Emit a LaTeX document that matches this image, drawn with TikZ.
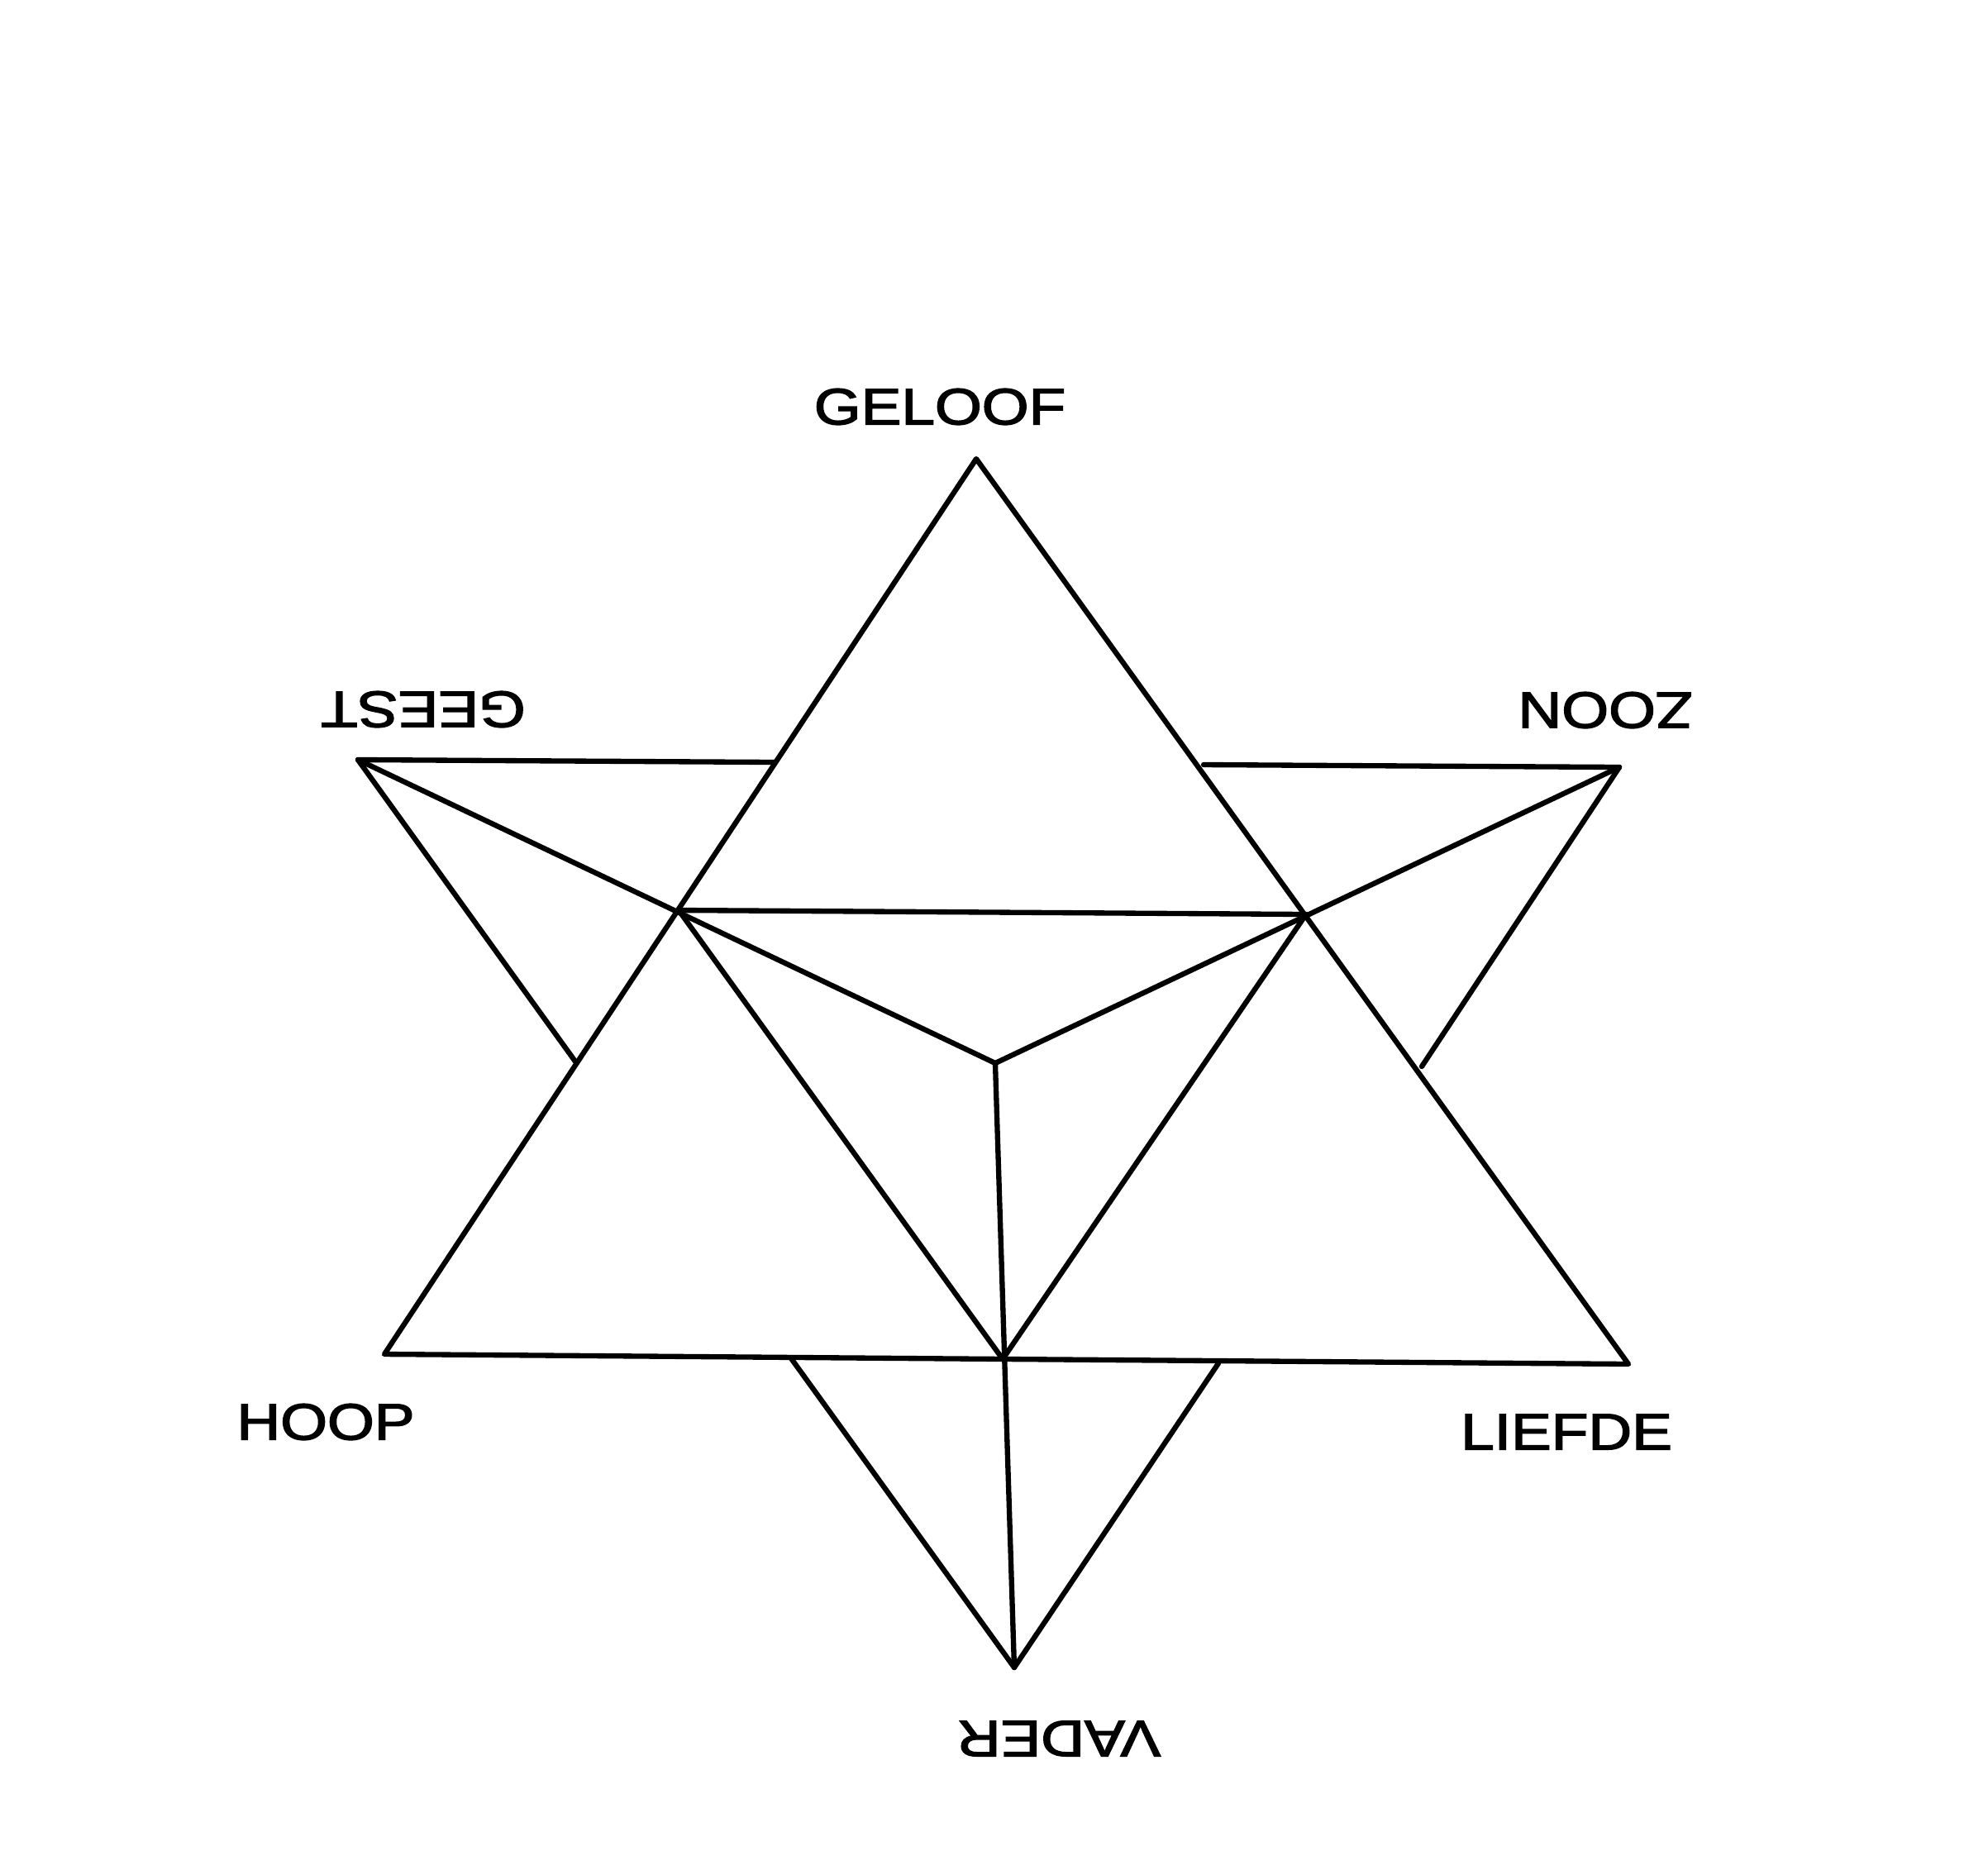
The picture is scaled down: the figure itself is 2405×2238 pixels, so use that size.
\documentclass[tikz,border=0pt]{standalone}
\usepackage{fontspec}
\setmainfont[FakeBold=2.2]{Liberation Sans}
\tikzset{
  lbl/.style={inner sep=0pt,font=\fontsize{17.6}{18}\selectfont,text=black,xscale=1.18},
  ln/.style={draw=black,line width=1.8pt,line join=round,line cap=round}
}
\begin{document}
\begin{tikzpicture}[x=0.01cm,y=-0.01cm]
\useasboundingbox (0,0) rectangle (2405,2238);
\coordinate (A) at (1181,555);
\coordinate (B) at (465,1638);
\coordinate (C) at (1970,1650);
\coordinate (D) at (433,919);
\coordinate (E) at (1959,928);
\coordinate (F) at (1227,2017);
\coordinate (P) at (821,1101);
\coordinate (Q) at (1580,1106);
\coordinate (R) at (1213,1644);
\coordinate (M) at (1204,1286);
\coordinate (G1) at (937,922);
\coordinate (G2) at (1456,925);
\coordinate (H1) at (696,1284);
\coordinate (H2) at (1720,1290);
\coordinate (J1) at (957,1643);
\coordinate (J2) at (1474,1649);
\draw[ln] (A) -- (B) -- (C) -- cycle;
\draw[ln] (D) -- (G1);
\draw[ln] (D) -- (H1);
\draw[ln] (E) -- (G2);
\draw[ln] (E) -- (H2);
\draw[ln] (F) -- (J1);
\draw[ln] (F) -- (J2);
\draw[ln] (P) -- (Q);
\draw[ln] (P) -- (R);
\draw[ln] (Q) -- (R);
\draw[ln] (D) -- (M);
\draw[ln] (E) -- (M);
\draw[ln] (M) -- (F);
\node[lbl] (geloof) at (1137,492) {GELOOF};
\node[lbl,rotate=180] (geest) at (512,858) {GEEST};
\node[lbl,rotate=180] (zoon) at (1942,859) {ZOON};
\node[lbl] (hoop) at (394,1720) {HOOP};
\node[lbl] (liefde) at (1895,1732) {LIEFDE};
\node[lbl,rotate=180] (vader) at (1281,2103) {VADER};
\end{tikzpicture}
\end{document}
